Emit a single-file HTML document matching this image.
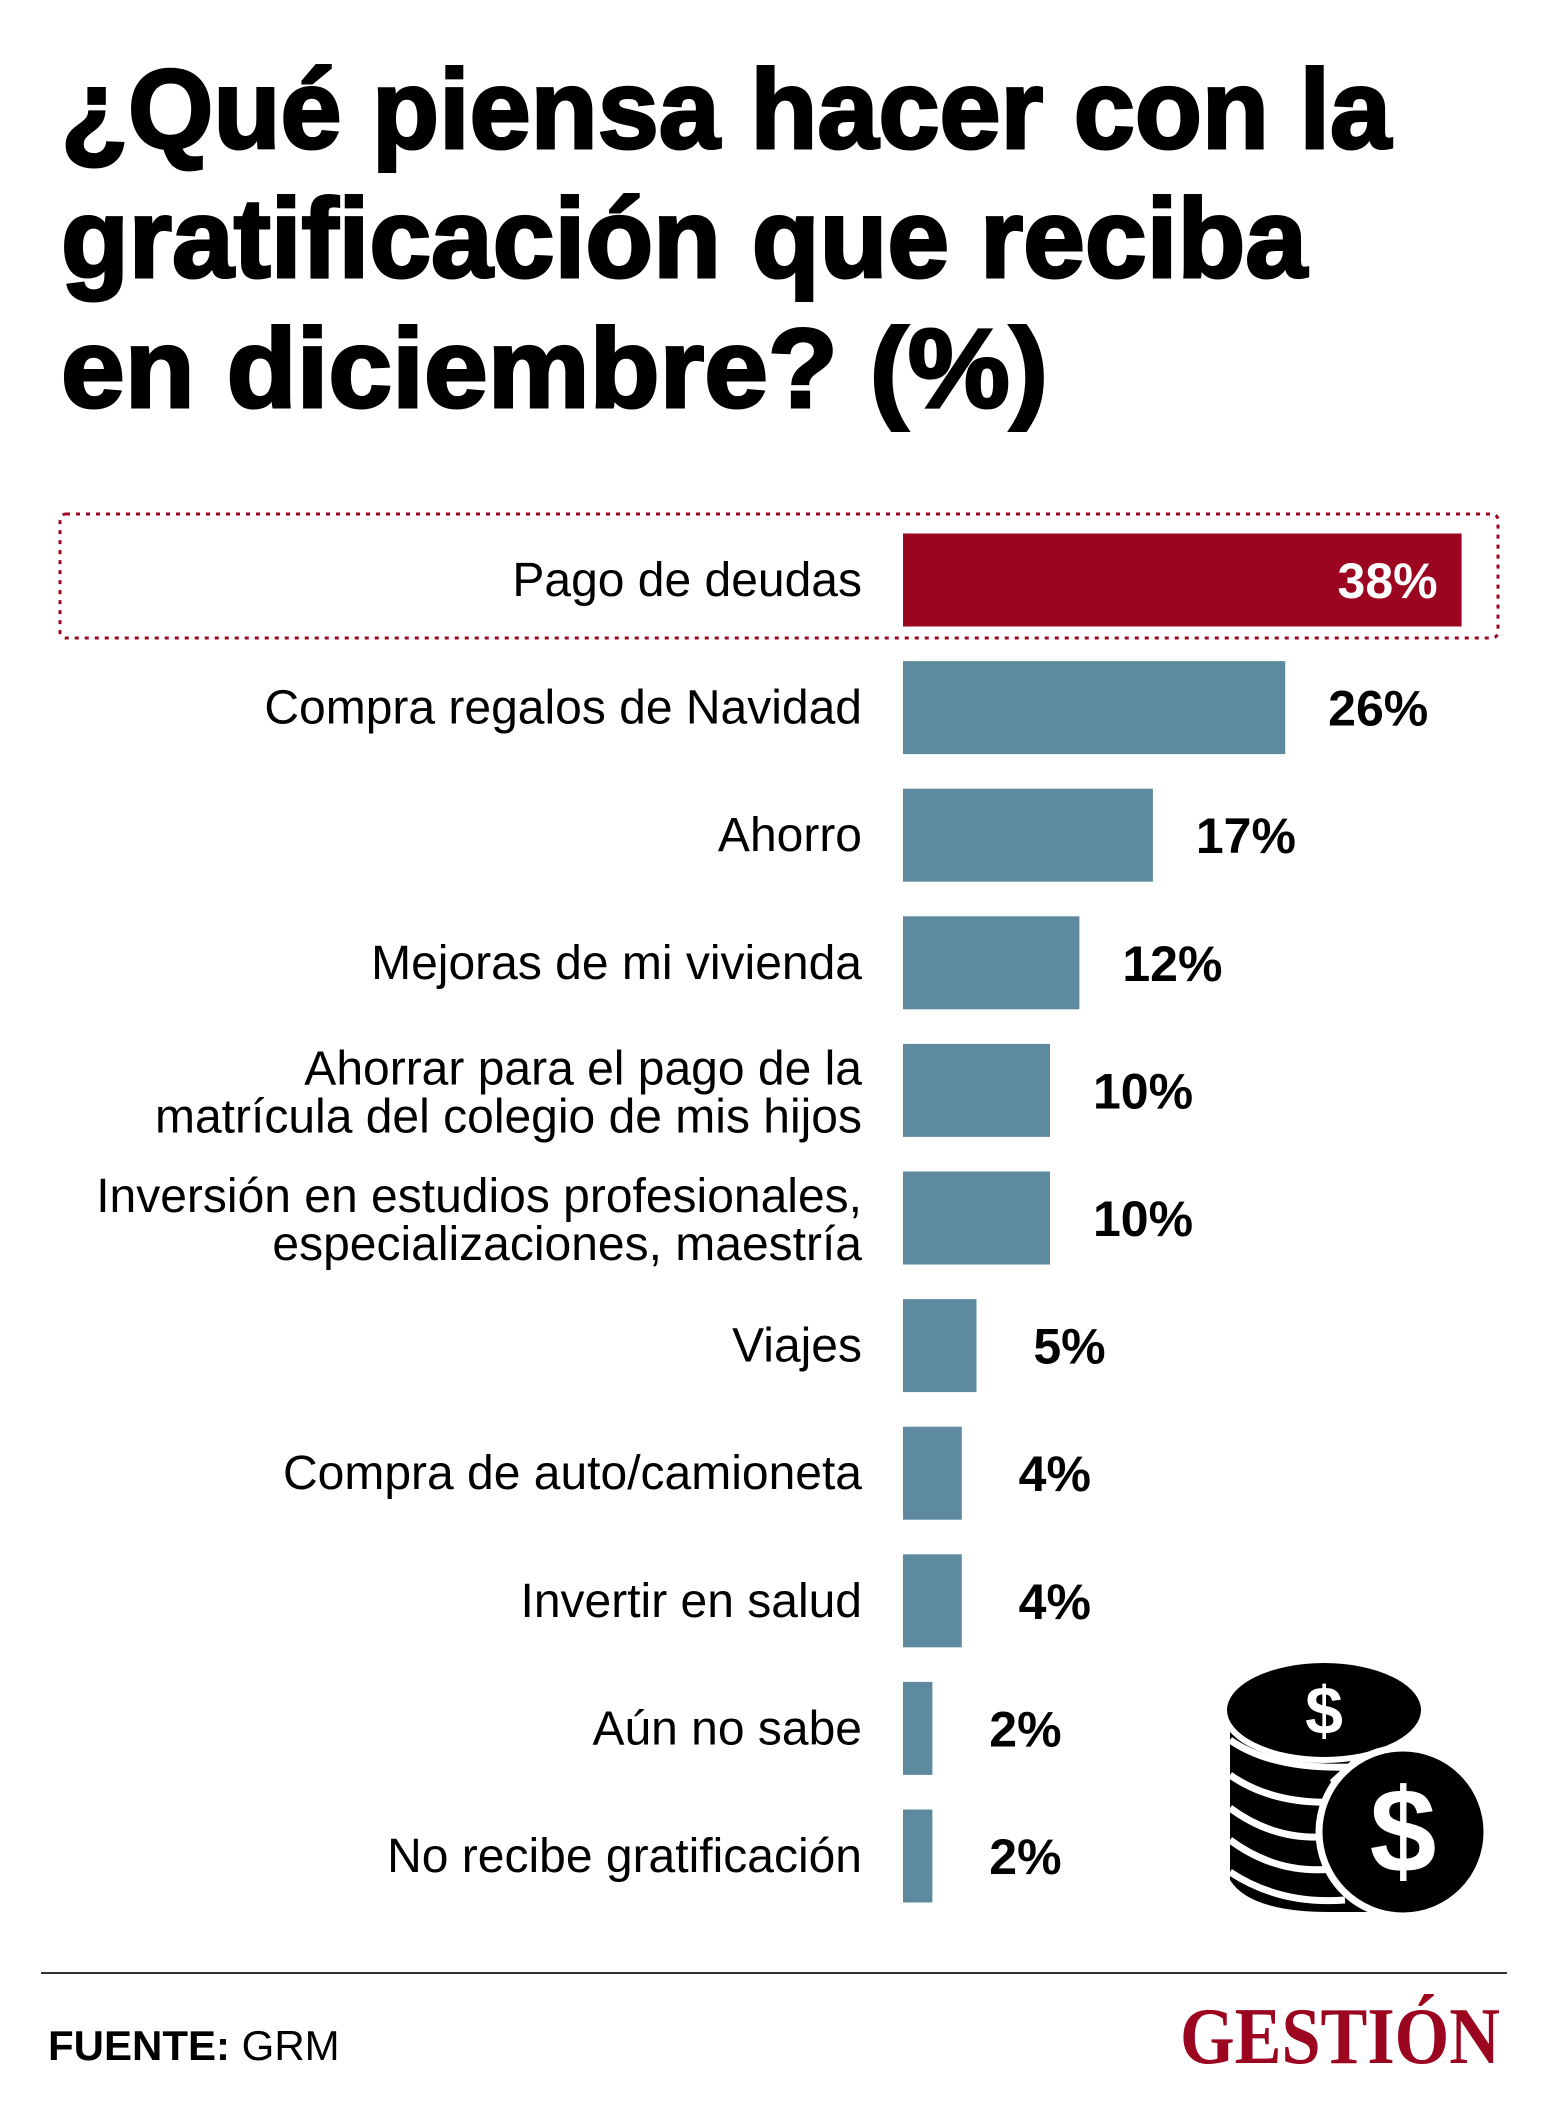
<!DOCTYPE html>
<html><head><meta charset="utf-8"><style>
html,body{margin:0;padding:0;background:#fff;}
svg{display:block;font-family:"Liberation Sans",sans-serif;}
</style></head><body>
<svg id="chart" width="1544" height="2124" viewBox="0 0 1544 2124" xmlns="http://www.w3.org/2000/svg">
<rect width="1544" height="2124" fill="#fff"/>
<g font-weight="bold" font-size="112" fill="#000" stroke="#000" stroke-width="3">
<text x="61" y="148" textLength="1330" lengthAdjust="spacingAndGlyphs">¿Qué piensa hacer con la</text>
<text x="61" y="277" textLength="1246" lengthAdjust="spacingAndGlyphs">gratificación que reciba</text>
<text x="61" y="407" textLength="987" lengthAdjust="spacingAndGlyphs">en diciembre? (%)</text>
</g>
<rect x="60" y="514" width="1438" height="124" rx="6" fill="none" stroke="#9b0520" stroke-width="3" stroke-dasharray="4 6"/>
<g id="bars"></g>
<g>
<path d="M1230 1730 L1230 1880 Q1250 1912 1330 1912 L1390 1912 L1330 1780 L1418 1700 Z" fill="#000"/>
<g stroke="#fff" stroke-width="7" fill="none">
<path d="M1230 1740 Q1280 1775 1380 1765"/>
<path d="M1230 1775 Q1280 1810 1360 1800"/>
<path d="M1230 1808 Q1280 1845 1340 1835"/>
<path d="M1230 1840 Q1280 1877 1340 1868"/>
<path d="M1230 1872 Q1280 1905 1345 1900"/>
</g>
<ellipse cx="1324" cy="1710" rx="100" ry="50" fill="#000" stroke="#fff" stroke-width="6"/>
<text x="1324" y="1734" font-size="68" font-weight="bold" fill="#fff" text-anchor="middle">$</text>
<circle cx="1403" cy="1832" r="84" fill="#000" stroke="#fff" stroke-width="7"/>
<text x="1403" y="1872" font-size="120" font-weight="bold" fill="#fff" text-anchor="middle">$</text>
</g>
<line x1="41" y1="1973" x2="1507" y2="1973" stroke="#333" stroke-width="2"/>
<text x="48" y="2060" font-size="42" fill="#000"><tspan font-weight="bold">FUENTE:</tspan> GRM</text>
<text x="1180" y="2063" font-family="'Liberation Serif',serif" font-weight="bold" font-size="80" fill="#9b0520" textLength="320" lengthAdjust="spacingAndGlyphs">GESTIÓN</text>
</svg>
<script>
const categories = [["Pago de deudas"],["Compra regalos de Navidad"],["Ahorro"],["Mejoras de mi vivienda"],["Ahorrar para el pago de la","matrícula del colegio de mis hijos"],["Inversión en estudios profesionales,","especializaciones, maestría"],["Viajes"],["Compra de auto/camioneta"],["Invertir en salud"],["Aún no sabe"],["No recibe gratificación"]];
const values = [38,26,17,12,10,10,5,4,4,2,2];
const valueLabels = ["38%","26%","17%","12%","10%","10%","5%","4%","4%","2%","2%"];
const NS = "http://www.w3.org/2000/svg";
const g = document.getElementById('bars');
const x0 = 903, perUnit = 14.7, rowTop = 580, rowStep = 127.6, barH = 93;
function xs(v){ return v * perUnit; }
function yc(i){ return rowTop + i * rowStep; }
function mk(tag, attrs){ const e = document.createElementNS(NS, tag); for (const k in attrs) e.setAttribute(k, attrs[k]); return e; }
values.forEach((v, i) => {
  const cy = yc(i);
  const r = mk('rect', {x: x0, y: cy - barH/2, width: xs(v), height: barH, fill: i === 0 ? '#9b0520' : '#5e8aa0'});
  
  
  g.appendChild(r);
  const lines = categories[i];
  lines.forEach((ln, j) => {
    const off = lines.length === 1 ? 0 : (j === 0 ? -22 : 26);
    const t = mk('text', {x: 862, y: cy + 16 + off, 'font-size': 48, 'text-anchor': 'end', fill: '#000'});
    t.textContent = ln;
    
    
    g.appendChild(t);
  });
  let vt;
  if (i === 0) {
    vt = mk('text', {x: x0 + xs(v) - 24, y: cy + 18, 'font-size': 50, 'font-weight': 'bold', 'text-anchor': 'end', fill: '#fff'});
  } else {
    vt = mk('text', {x: x0 + xs(v) + 93, y: cy + 18, 'font-size': 50, 'font-weight': 'bold', 'text-anchor': 'middle', fill: '#000'});
  }
  vt.textContent = valueLabels[i];
  
  
  g.appendChild(vt);
});
</script>
</body></html>
